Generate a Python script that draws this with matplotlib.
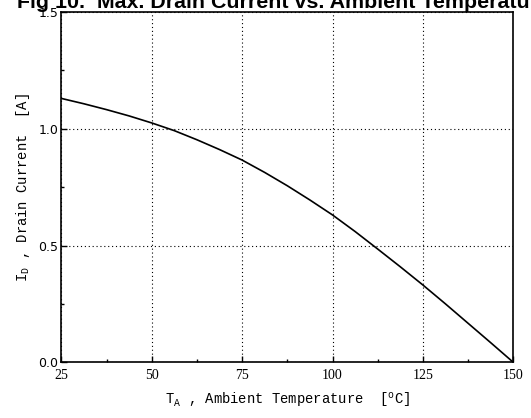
import matplotlib
matplotlib.use("Agg")
import matplotlib.pyplot as plt
from matplotlib.ticker import MultipleLocator

# Data
temperature = [25, 31.25, 37.5, 43.75, 50, 56.25, 62.5, 68.75, 75, 81.25, 87.5,
               93.75, 100, 106.25, 112.5, 118.75, 125, 131.25, 137.5, 143.75, 150]
drain_current = [1.130, 1.107, 1.082, 1.055, 1.025, 0.992, 0.953, 0.911, 0.866, 0.813, 0.756,
                 0.695, 0.631, 0.560, 0.485, 0.409, 0.331, 0.250, 0.167, 0.084, 0.0]

x_ticks = [25, 50, 75, 100, 125, 150]
y_ticks = [0.0, 0.5, 1.0, 1.5]
x_tick_labels = ["25", "50", "75", "100", "125", "150"]
y_tick_labels = ["0.0", "0.5", "1.0", "1.5"]

title = "Fig 10.  Max. Drain Current vs. Ambient Temperature"
xlabel = r"$\mathregular{T_A}$ , Ambient Temperature  [$\mathregular{^oC}$]"
ylabel = r"$\mathregular{I_D}$ , Drain Current  [A]"

W, H = 531, 418
fig = plt.figure(figsize=(W / 100, H / 100), dpi=100)
L, R, T, B = 61.3, 513.3, 12.0, 362.3
ax = fig.add_axes([L / W, 1 - B / H, (R - L) / W, (B - T) / H])

ax.plot(temperature, drain_current, color="black", lw=1.2, solid_capstyle="round",
        solid_joinstyle="round")

ax.set_xlim(25, 150)
ax.set_ylim(0, 1.5)
ax.set_xticks(x_ticks)
ax.set_xticklabels(x_tick_labels, family="Liberation Serif", fontsize=10)
ax.set_yticks(y_ticks)
ax.set_yticklabels(y_tick_labels, family="DejaVu Sans", fontsize=9)
ax.xaxis.set_minor_locator(MultipleLocator(12.5))
ax.yaxis.set_minor_locator(MultipleLocator(0.25))
ax.tick_params(which="both", direction="in", top=False, right=False, color="black", width=1)
ax.tick_params(axis="x", which="major", length=4.5, pad=5)
ax.tick_params(axis="y", which="major", length=4.5, pad=2)
ax.tick_params(which="minor", length=2.5)

ax.grid(True, which="major", color="black", linestyle=(0, (1, 2.5)), linewidth=0.8)

for s in ax.spines.values():
    s.set_linewidth(1.2)
    s.set_color("black")

ax.set_xlabel(xlabel, family="Liberation Mono", fontsize=10, labelpad=6)
ax.set_ylabel(ylabel, family="Liberation Mono", fontsize=10, labelpad=5)

fig.text(17 / W, 1 - 7.5 / H, title, family="Liberation Sans", fontweight="bold",
         fontsize=15.4, ha="left", va="baseline")

fig.savefig("out.png", dpi=100)
